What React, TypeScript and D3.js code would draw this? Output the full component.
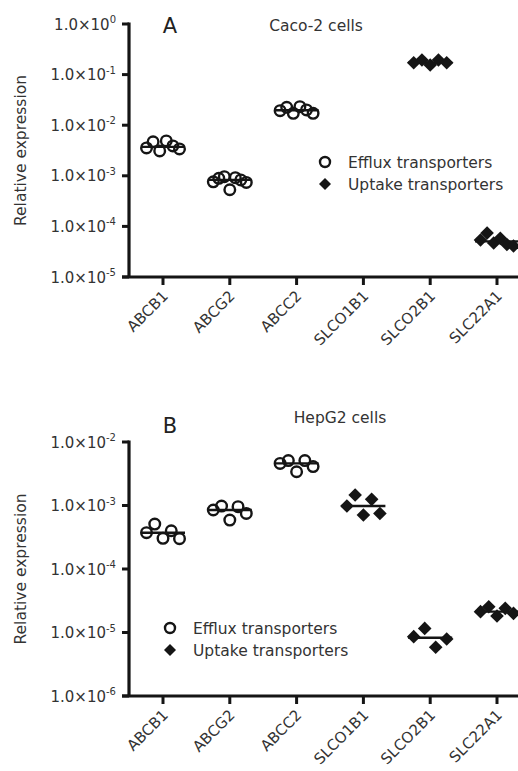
import React from 'react'
import * as d3 from 'd3'

const genes = ['ABCB1', 'ABCG2', 'ABCC2', 'SLCO1B1', 'SLCO2B1', 'SLC22A1']
const effluxGenes = ['ABCB1', 'ABCG2', 'ABCC2']

// Caco-2 relative expression, one array per gene
const cacoABCB1 = [3.55e-3, 4.7e-3, 3.1e-3, 4.9e-3, 3.9e-3, 3.4e-3]
const cacoABCG2 = [7.6e-4, 8.9e-4, 9.6e-4, 5.3e-4, 9.2e-4, 8.3e-4, 7.4e-4]
const cacoABCC2 = [1.94e-2, 2.26e-2, 1.72e-2, 2.32e-2, 2.0e-2, 1.72e-2]
const cacoSLCO1B1: number[] = []
const cacoSLCO2B1 = [0.172, 0.194, 0.155, 0.194, 0.172]
const cacoSLC22A1 = [5.4e-5, 7.4e-5, 4.7e-5, 5.8e-5, 4.4e-5, 4.1e-5]

// HepG2 relative expression
const hepABCB1 = [3.73e-4, 5.1e-4, 3.04e-4, 4.0e-4, 3.0e-4]
const hepABCG2 = [8.5e-4, 9.8e-4, 5.9e-4, 9.6e-4, 7.5e-4]
const hepABCC2 = [4.6e-3, 5.1e-3, 3.4e-3, 5.1e-3, 4.1e-3]
const hepSLCO1B1 = [9.8e-4, 1.46e-3, 7.1e-4, 1.25e-3, 7.5e-4]
const hepSLCO2B1 = [8.6e-6, 1.16e-5, 5.85e-6, 7.9e-6]
const hepSLC22A1 = [2.13e-5, 2.55e-5, 1.82e-5, 2.4e-5, 2.0e-5]

const cacoExponents = [0, -1, -2, -3, -4, -5]
const hepExponents = [-2, -3, -4, -5, -6]

const cacoData = [cacoABCB1, cacoABCG2, cacoABCC2, cacoSLCO1B1, cacoSLCO2B1, cacoSLC22A1]
const hepData = [hepABCB1, hepABCG2, hepABCC2, hepSLCO1B1, hepSLCO2B1, hepSLC22A1]

const FONT = 'DejaVu Sans, sans-serif'
const INK = '#151515'

const x = d3.scalePoint<string>().domain(genes).range([163, 497])

function Diamond({cx, cy, r}: {cx: number; cy: number; r: number}) {
  return (
    <path
      d={`M${cx},${cy - r}L${cx + r},${cy}L${cx},${cy + r}L${cx - r},${cy}Z`}
      fill={INK}
    />
  )
}

function Panel(props: {
  top: number
  bottom: number
  exps: number[]
  data: number[][]
  letter: string
  title: string
  titleX: number
  titleY: number
  letterY: number
  legendX: number
  legendY: number
}) {
  const {top, bottom, exps, data} = props
  const y = d3
    .scaleLog()
    .domain([Math.pow(10, d3.min(exps)!), Math.pow(10, d3.max(exps)!)])
    .range([bottom, top])
  const axisX = 129
  const span = 33
  return (
    <g>
      {/* axes */}
      <line x1={axisX} x2={axisX} y1={top - 1.5} y2={bottom} stroke={INK} strokeWidth={3.2} />
      <line x1={axisX - 7} x2={518} y1={bottom} y2={bottom} stroke={INK} strokeWidth={3.2} />
      {exps.map((e) => (
        <g key={e}>
          <line x1={axisX - 7} x2={axisX} y1={y(Math.pow(10, e))} y2={y(Math.pow(10, e))} stroke={INK} strokeWidth={3} />
          <text
            x={116}
            y={y(Math.pow(10, e)) + 5.5}
            textAnchor="end"
            fontFamily={FONT}
            fontSize={15}
            fill="#333"
          >
            1.0×10
            <tspan fontSize={10} dy={-6.5}>
              {e === 0 ? '0' : '-' + Math.abs(e)}
            </tspan>
          </text>
        </g>
      ))}
      {genes.map((g) => (
        <g key={g}>
          <line x1={x(g)} x2={x(g)} y1={bottom} y2={bottom + 8} stroke={INK} strokeWidth={3} />
          <text
            transform={`translate(${x(g)! + 6},${bottom + 20}) rotate(-45)`}
            textAnchor="end"
            fontFamily={FONT}
            fontSize={15}
            fill="#333"
          >
            {g}
          </text>
        </g>
      ))}
      <text
        transform={`translate(26,${(top + bottom) / 2}) rotate(-90)`}
        textAnchor="middle"
        fontFamily={FONT}
        fontSize={15.5}
        fill="#333"
      >
        Relative expression
      </text>
      <text x={170} y={props.letterY} textAnchor="middle" fontFamily={FONT} fontSize={21} fill="#222">
        {props.letter}
      </text>
      <text x={props.titleX} y={props.titleY} textAnchor="middle" fontFamily={FONT} fontSize={15.5} fill="#333">
        {props.title}
      </text>
      {/* points */}
      {genes.map((g, gi) => {
        const vals = data[gi]
        if (!vals.length) return null
        const n = vals.length
        const step = n > 1 ? span / (n - 1) : 0
        const med = d3.median(vals)!
        const efflux = effluxGenes.includes(g)
        return (
          <g key={g}>
            <line
              x1={x(g)! - 22}
              x2={x(g)! + 22}
              y1={y(med)}
              y2={y(med)}
              stroke={INK}
              strokeWidth={2.4}
            />
            {vals.map((v, i) => {
              const cx = x(g)! + (i - (n - 1) / 2) * step
              return efflux ? (
                <circle key={i} cx={cx} cy={y(v)} r={5.3} fill="none" stroke={INK} strokeWidth={2.4} />
              ) : (
                <Diamond key={i} cx={cx} cy={y(v)} r={6.8} />
              )
            })}
          </g>
        )
      })}
      {/* legend */}
      <circle cx={props.legendX} cy={props.legendY} r={5} fill="none" stroke={INK} strokeWidth={2.4} />
      <Diamond cx={props.legendX} cy={props.legendY + 22} r={6} />
      <text x={props.legendX + 23} y={props.legendY + 6} fontFamily={FONT} fontSize={15.5} fill="#333">
        Efflux transporters
      </text>
      <text x={props.legendX + 23} y={props.legendY + 28} fontFamily={FONT} fontSize={15.5} fill="#333">
        Uptake transporters
      </text>
    </g>
  )
}

export default function App() {
  return (
    <svg
      width={518}
      height={771}
      style={{position: 'absolute', left: 0, top: 0, background: '#fff'}}
    >
      <rect width={518} height={771} fill="#fff" />
      <Panel
        top={24}
        bottom={277}
        exps={cacoExponents}
        data={cacoData}
        letter="A"
        title="Caco-2 cells"
        titleX={316}
        titleY={31}
        letterY={33}
        legendX={325}
        legendY={162}
      />
      <Panel
        top={442}
        bottom={696}
        exps={hepExponents}
        data={hepData}
        letter="B"
        title="HepG2 cells"
        titleX={340}
        titleY={423}
        letterY={433}
        legendX={170}
        legendY={628}
      />
    </svg>
  )
}
